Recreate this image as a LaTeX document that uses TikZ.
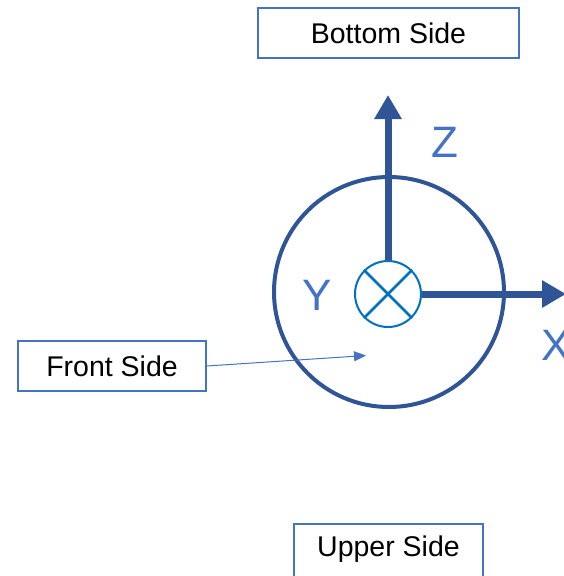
\documentclass[tikz,border=0pt]{standalone}
\usepackage{fontspec}
\setmainfont{Liberation Sans}
\usetikzlibrary{arrows.meta}
\definecolor{boxblue}{HTML}{4472C4}
\definecolor{darkblue}{HTML}{2F5597}
\definecolor{midblue}{HTML}{0070C0}
\tikzset{
  labelbox/.style={draw=boxblue, line width=1.5pt, fill=white, minimum height=50pt, inner sep=0pt, font=\fontsize{28.5}{30}\selectfont, text=black},
  axis/.style={draw=darkblue, line width=7pt, -{Triangle[length=24pt,width=26pt]}},
  axislabel/.style={text=boxblue, font=\fontsize{44}{46}\selectfont, inner sep=0pt},
}
\begin{document}
\begin{tikzpicture}[x=1pt,y=-1pt]
\useasboundingbox (0,0) rectangle (564,576);
% big circle
\node[circle, draw=darkblue, line width=4pt, minimum size=230pt, inner sep=0pt] (big) at (389,292) {};
% small circle
\node[circle, draw=midblue, line width=2pt, minimum size=66pt, inner sep=0pt, fill=white] (o) at (388,294) {};
\draw[midblue, line width=2.5pt] (o.45) -- (o.225) (o.135) -- (o.315);
% axes
\coordinate (ztip) at (388,95);
\coordinate (xtip) at (566,294);
\draw[axis] (o.north) -- (ztip);
\draw[axis] (o.east) -- (xtip);
\node[axislabel] (zl) at (445,142) {Z};
\node[axislabel] (yl) at (317,295) {Y};
\node[axislabel] (xl) at (556,345) {X};
% boxes
\node[labelbox, minimum width=261pt] (bottom) at (388.5,33) {Bottom Side};
\node[labelbox, minimum width=188pt] (front) at (112,366) {Front Side};
\node[labelbox, minimum width=189pt, minimum height=54pt] (upper) at (388.5,551) {};
\node[font=\fontsize{28.5}{30}\selectfont, inner sep=0pt] (uppertext) at (388.5,549) {Upper Side};
% front arrow
\coordinate (fronttip) at (366,355.5);
\draw[boxblue, line width=1pt, -{Triangle[length=12pt,width=10pt]}] (front.east) -- (fronttip);
\end{tikzpicture}
\end{document}
